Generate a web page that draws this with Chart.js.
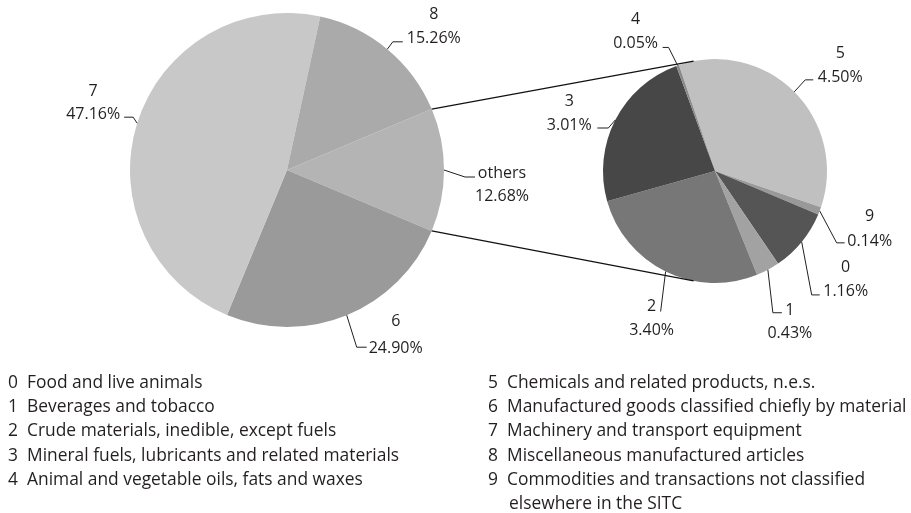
<!DOCTYPE html>
<html>
<head>
<meta charset="utf-8">
<script src="https://cdn.jsdelivr.net/npm/chart.js@4/dist/chart.umd.min.js"></script>
<style>
  body { margin: 0; background: #fff; }
  #wrap { position: relative; width: 911px; height: 513px; font-family: "Open Sans", sans-serif; color: #231f20; }
  #wrap canvas { position: absolute; left: 0; top: 0; }
  .legend { position: absolute; font-size: 17.4px; line-height: 24.2px; white-space: nowrap; }
  .legend .row { position: relative; height: 24.2px; }
  .legend .num { position: absolute; left: 0; }
  .legend .txt { position: absolute; left: 19px; }
</style>
</head>
<body>
<div id="wrap">
  <canvas id="mainPie" width="911" height="513"></canvas>
  <canvas id="subPie" width="911" height="513"></canvas>
  <div class="legend" id="legLeft" style="left:8px; top:369px;"></div>
  <div class="legend" id="legRight" style="left:488px; top:369px;"></div>
</div>
<script>
// main pie: "others" + the three big groups
const mainLabels = ["others", "6", "7", "8"];
const mainValues = [12.68, 24.90, 47.16, 15.26];
const mainColors = ["#b4b4b4", "#9a9a9a", "#c8c8c8", "#aaaaaa"];

// secondary pie: breakdown of "others"
const subLabels = ["5", "9", "0", "1", "2", "3", "4"];
const subValues = [4.50, 0.14, 1.16, 0.43, 3.40, 3.01, 0.05];
const subColors = ["#c0c0c0", "#999999", "#555555", "#a2a2a2", "#777777", "#474747", "#8a8a8a"];

// SITC legend
const legendCodes = ["0", "1", "2", "3", "4", "5", "6", "7", "8", "9"];
const legendNames = [
    "Food and live animals",
    "Beverages and tobacco",
    "Crude materials, inedible, except fuels",
    "Mineral fuels, lubricants and related materials",
    "Animal and vegetable oils, fats and waxes",
    "Chemicals and related products, n.e.s.",
    "Manufactured goods classified chiefly by material",
    "Machinery and transport equipment",
    "Miscellaneous manufactured articles",
    "Commodities and transactions not classified"
];
const legendExtra = "elsewhere in the SITC";

// leader layout per label: [elbow dx, elbow dy, tail, text dx, name dy, pct dy]
const mainLeaders = {
    "others": [21, 7, 10, 27, -5, 18],
    "6": [10, 32, 10, 29, -27, 0],
    "7": [-4, -6, -9, -31, -27, -4],
    "8": [5.5, -7.4, 10, 31, -29, -5]
};
const subLeaders = {
    "5": [11, -12, 8, 27, -28, -4],
    "9": [17, 32, 8, 25, -28, -3],
    "0": [10, 53, 8, 26, -29, -5],
    "1": [5, 43, 9, 8, -4, 19],
    "2": [-5, 40, 0, -9, -7, 17],
    "3": [-7, 8, -11, -28, -28, -4],
    "4": [-9, -18, -6, -27, -29, -5]
};

const FONT = '16px "Open Sans", sans-serif';
const INK = "#231f20";

function fmtPct(v) {
    return v.toFixed(2) + "%";
}

// draws excel-style leader lines + two line labels
function makeLabelPlugin(labels, values, leaders) {
    return {
        id: "sliceLabels",
        afterDatasetsDraw(chart) {
            const ctx = chart.ctx;
            const arcs = chart.getDatasetMeta(0).data;
            ctx.save();
            ctx.font = FONT;
            ctx.fillStyle = INK;
            ctx.strokeStyle = INK;
            ctx.lineWidth = 1;
            ctx.textAlign = "center";
            ctx.textBaseline = "alphabetic";
            arcs.forEach((arc, i) => {
                const L = leaders[labels[i]];
                const mid = (arc.startAngle + arc.endAngle) / 2;
                const ex = arc.x + Math.cos(mid) * arc.outerRadius;
                const ey = arc.y + Math.sin(mid) * arc.outerRadius;
                const bx = ex + L[0], by = ey + L[1];
                const tx = bx + L[2];
                ctx.beginPath();
                ctx.moveTo(ex, ey);
                ctx.lineTo(bx, by);
                ctx.lineTo(tx, by);
                ctx.stroke();
                ctx.fillText(labels[i], tx + L[3], by + L[4] + 6);
                ctx.fillText(fmtPct(values[i]), tx + L[3], by + L[5] + 6);
            });
            ctx.restore();
        }
    };
}

let mainChart = new Chart(document.getElementById("mainPie").getContext("2d"), {
    type: "pie",
    data: {
        labels: mainLabels,
        datasets: [{
            data: mainValues,
            backgroundColor: mainColors,
            borderWidth: 0
        }]
    },
    options: {
        responsive: false,
        animation: false,
        rotation: 90 - (mainValues[0] / 100) * 180,   // "others" centred on the right
        radius: 157,
        layout: { padding: { left: 130, right: 467, top: 13, bottom: 186 } },
        plugins: { legend: { display: false }, tooltip: { enabled: false } }
    },
    plugins: [makeLabelPlugin(mainLabels, mainValues, mainLeaders)]
});

// connector lines from "others" slice to the secondary pie
const connectorPlugin = {
    id: "connectors",
    afterDatasetsDraw(chart) {
        const others = mainChart.getDatasetMeta(0).data[0];
        const sub = chart.getDatasetMeta(0).data[0];
        const ang = 101 * Math.PI / 180;
        const ctx = chart.ctx;
        ctx.save();
        ctx.strokeStyle = "#111";
        ctx.lineWidth = 1.2;
        ctx.beginPath();
        ctx.moveTo(others.x + Math.cos(others.startAngle) * others.outerRadius,
                   others.y + Math.sin(others.startAngle) * others.outerRadius);
        ctx.lineTo(sub.x + Math.cos(-ang) * sub.outerRadius, sub.y + Math.sin(-ang) * sub.outerRadius);
        ctx.moveTo(others.x + Math.cos(others.endAngle) * others.outerRadius,
                   others.y + Math.sin(others.endAngle) * others.outerRadius);
        ctx.lineTo(sub.x + Math.cos(ang) * sub.outerRadius, sub.y + Math.sin(ang) * sub.outerRadius);
        ctx.stroke();
        ctx.restore();
    }
};

let subChart = new Chart(document.getElementById("subPie").getContext("2d"), {
    type: "pie",
    data: {
        labels: subLabels,
        datasets: [{
            data: subValues,
            backgroundColor: subColors,
            borderWidth: 0
        }]
    },
    options: {
        responsive: false,
        animation: false,
        rotation: -18.8,
        radius: 112,
        layout: { padding: { left: 603, right: 84, top: 59, bottom: 230 } },
        plugins: { legend: { display: false }, tooltip: { enabled: false } }
    },
    plugins: [connectorPlugin, makeLabelPlugin(subLabels, subValues, subLeaders)]
});

// legend text (two columns)
function addRow(col, code, name, indent) {
    const row = document.createElement("div");
    row.className = "row";
    if (code !== null) {
        const n = document.createElement("span");
        n.className = "num";
        n.textContent = code;
        row.appendChild(n);
    }
    const t = document.createElement("span");
    t.className = "txt";
    t.textContent = name;
    if (indent) t.style.left = indent + "px";
    row.appendChild(t);
    col.appendChild(row);
}
const legLeft = document.getElementById("legLeft");
const legRight = document.getElementById("legRight");
legendCodes.forEach((c, i) => {
    addRow(i < 5 ? legLeft : legRight, c, legendNames[i]);
});
addRow(legRight, null, legendExtra, 21);
</script>
</body>
</html>
